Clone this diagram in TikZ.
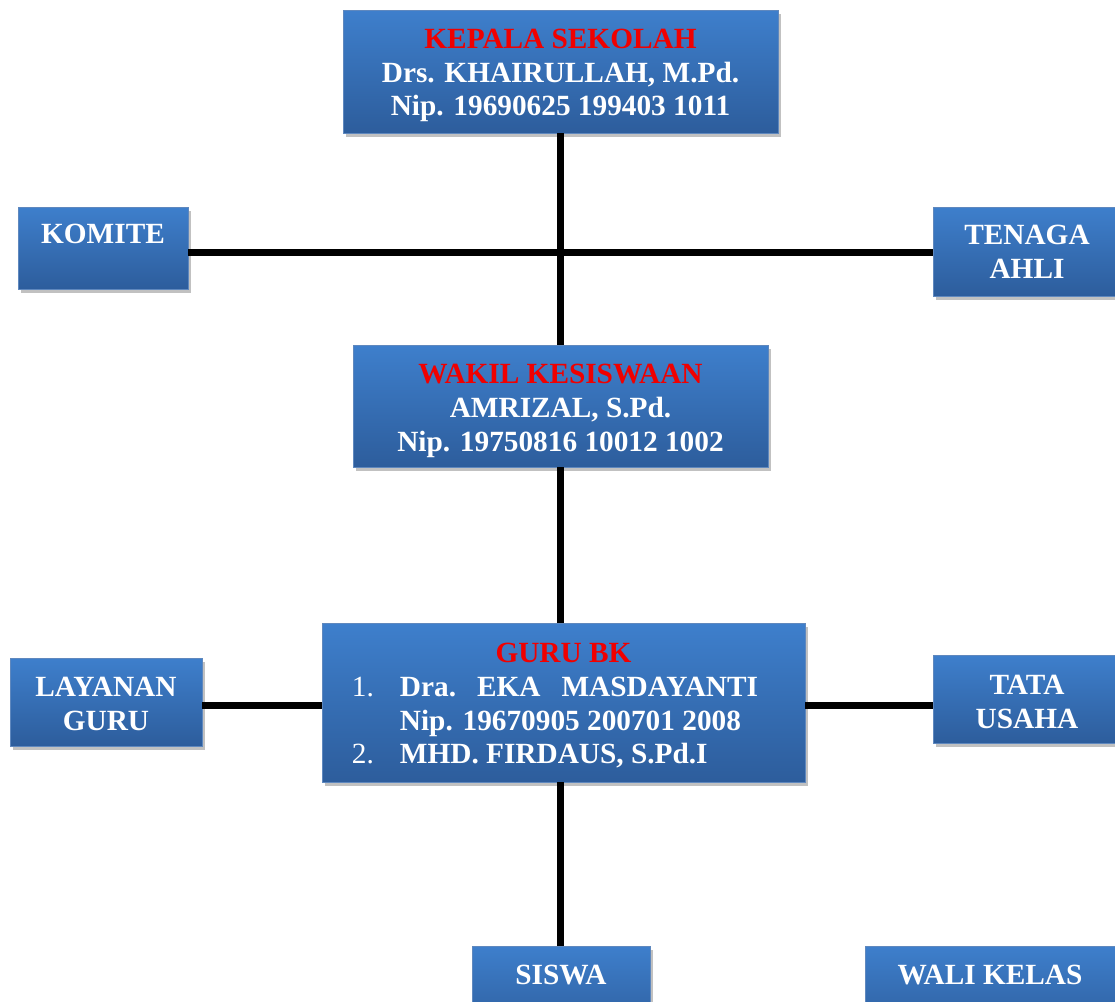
\documentclass[tikz,border=0pt]{standalone}
\usepackage{fontspec}
\setmainfont{Liberation Serif}
\usetikzlibrary{shadows}
\definecolor{boxtop}{HTML}{3E7FCC}
\definecolor{boxbot}{HTML}{2D5D9C}
\definecolor{boxline}{HTML}{5F88BE}
\definecolor{titlered}{HTML}{F00000}
% invisible strut that pushes the first line down
\newcommand{\toplift}[1]{\rule{0pt}{#1}}

\begin{document}
\begin{tikzpicture}[x=1pt, y=-1pt,
    unit/.style={draw=boxline, line width=0.8pt, top color=boxtop, bottom color=boxbot, minimum width=#1, inner sep=3pt, align=center, text=white, font=\fontsize{29.3}{33.8}\selectfont\bfseries, drop shadow={shadow xshift=2.5pt, shadow yshift=-3.5pt, opacity=0.35, fill=black!70}},
    link/.style={line width=7pt, black}
]
\useasboundingbox (0,0) rectangle (1115,1001);

% top level
\node[unit=435, minimum height=123] (kepala) at (560.5, 71.5) {\toplift{27.4pt}\textcolor{titlered}{KEPALA SEKOLAH}\\Drs. KHAIRULLAH, M.Pd.\\Nip. 19690625 199403 1011};
\node[unit=170, minimum height=82] (komite) at (103, 248) {\toplift{25.4pt}KOMITE\\\mbox{}};
\node[unit=188, minimum height=89] (tenaga) at (1027, 251.5) {TENAGA\\AHLI};

% middle
\node[unit=415, minimum height=122] (wakil) at (560.5, 406) {\toplift{29.4pt}\textcolor{titlered}{WAKIL KESISWAAN}\\AMRIZAL, S.Pd.\\Nip. 19750816 10012 1002};
\node[unit=483, minimum height=159] (gurubk) at (563.5, 702.5) {\toplift{31.4pt}\textcolor{titlered}{GURU BK}\\%
\begin{tabular}[t]{@{}l@{\hspace{26pt}}l@{}}
\mdseries 1. & Dra.\hspace{21pt}EKA\hspace{21pt}MASDAYANTI\\
 & Nip. 19670905 200701 2008\\
\mdseries 2. & MHD. FIRDAUS, S.Pd.I
\end{tabular}\rule{17pt}{0pt}};
\node[unit=192, minimum height=88] (layanan) at (106, 702) {\toplift{23.4pt}LAYANAN\\GURU};
\node[unit=188, minimum height=88] (tatausaha) at (1027, 699) {\toplift{25.4pt}TATA\\USAHA};

% bottom
\node[unit=178, minimum height=88] (siswa) at (561, 990) {\toplift{23.4pt}SISWA\\\mbox{}};
\node[unit=250, minimum height=88] (walikelas) at (990, 990) {\toplift{23.4pt}WALI KELAS\\\mbox{}};

% connectors
\draw[link] (kepala.south -| 560.5,0) -- (wakil.north -| 560.5,0);
\draw[link] (komite.east |- 0,252) -- (tenaga.west |- 0,252);
\draw[link] (wakil.south -| 560.5,0) -- (gurubk.north -| 560.5,0);
\draw[link] (layanan.east |- 0,705) -- (gurubk.west |- 0,705);
\draw[link] (gurubk.east |- 0,705) -- (tatausaha.west |- 0,705);
\draw[link] (gurubk.south -| 560.5,0) -- (siswa.north -| 560.5,0);
\end{tikzpicture}
\end{document}
